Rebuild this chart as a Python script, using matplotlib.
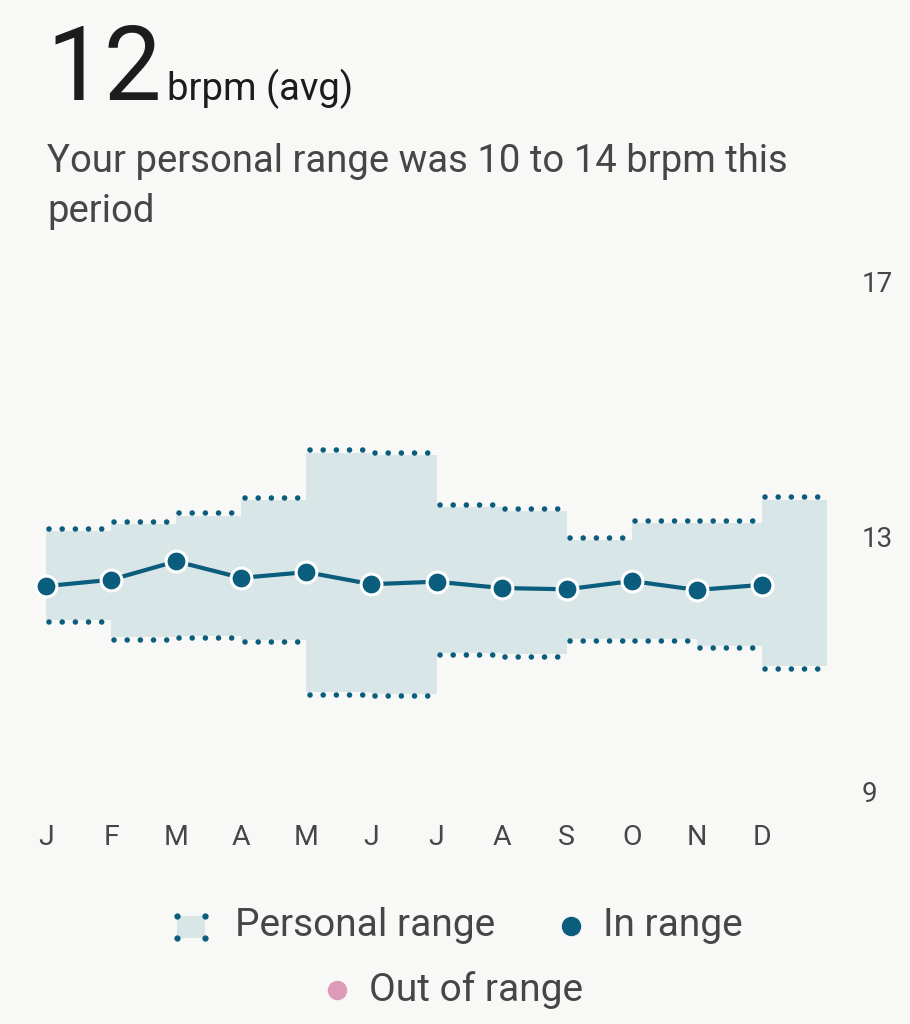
import numpy as np
import matplotlib
matplotlib.use('Agg')
import matplotlib.pyplot as plt
from matplotlib.patches import Rectangle
from matplotlib.lines import Line2D
from matplotlib.transforms import offset_copy

plt.rcParams['font.family'] = ['Roboto', 'DejaVu Sans']

# Data
months = ['J', 'F', 'M', 'A', 'M', 'J', 'J', 'A', 'S', 'O', 'N', 'D']
avg_rate = [12.22, 12.32, 12.61, 12.35, 12.44, 12.25, 12.29, 12.19, 12.17, 12.30, 12.16, 12.24]
range_high = [13.08, 13.19, 13.33, 13.57, 14.32, 14.28, 13.46, 13.40, 12.94, 13.21, 13.21, 13.58]
range_low = [11.69, 11.42, 11.44, 11.38, 10.55, 10.53, 11.17, 11.15, 11.39, 11.39, 11.28, 10.96]
y_ticks = [9, 13, 17]

bg = '#f8f9f7'
teal = '#0b5d7e'
band = '#d9e6e8'
pink = '#dc9bb9'
text_dark = '#1c1c1c'
text_gray = '#444746'

fig = plt.figure(figsize=(9.1, 10.24), dpi=100, facecolor=bg)
W, H = 910, 1024

# header texts
fig.text(46 / W, 1 - 100 / H, '12', fontsize=74, color=text_dark, va='baseline')
fig.text(167 / W, 1 - 100 / H, 'brpm (avg)', fontsize=27.5, color=text_dark, va='baseline')
fig.text(47 / W, 1 - 172 / H, 'Your personal range was 10 to 14 brpm this',
         fontsize=27.5, color=text_gray, va='baseline')
fig.text(47 / W, 1 - 222 / H, 'period', fontsize=27.5, color=text_gray, va='baseline')

# chart area: x from J (46px) to end of December band (827px), y 9..17
ax = fig.add_axes([46 / W, 1 - 791 / H, (827 - 46) / W, (791 - 282) / H])
ax.set_facecolor('none')
ax.set_xlim(0, 12)
ax.set_ylim(9, 17)
for s in ax.spines.values():
    s.set_visible(False)

x = np.arange(len(months))
xs = np.arange(len(months) + 1)
hi_step = range_high + [range_high[-1]]
lo_step = range_low + [range_low[-1]]
ax.fill_between(xs, lo_step, hi_step, step='post', color=band, lw=0, zorder=1)

# dotted edges of the personal range, one segment per month
up = offset_copy(ax.transData, fig=fig, y=2.5, units='dots')
down = offset_copy(ax.transData, fig=fig, y=-2.5, units='dots')
for i in range(len(months)):
    for val, tr in ((range_high[i], up), (range_low[i], down)):
        ax.plot([i + 0.05, i + 0.87], [val, val], transform=tr, color=teal,
                lw=4, linestyle=(0, (0.01, 2.36)), dash_capstyle='round',
                solid_capstyle='round', zorder=2, clip_on=False)

ax.plot(x, avg_rate, color=teal, lw=3, zorder=3, clip_on=False)
ax.plot(x, avg_rate, linestyle='none', marker='o', markersize=15,
        markerfacecolor=teal, markeredgecolor='white', markeredgewidth=2.2,
        zorder=4, clip_on=False)

ax.set_xticks(x)
ax.set_xticklabels(months)
ax.set_yticks(y_ticks)
ax.yaxis.tick_right()
ax.tick_params(axis='x', length=0, pad=24, labelsize=20.5, labelcolor=text_gray)
ax.tick_params(axis='y', length=0, pad=25, labelsize=20, labelcolor=text_gray)

# legend drawn by hand
ty1 = 1 - 926 / H
ty2 = 1 - 990 / H
fig.add_artist(Rectangle((177 / W, 1 - 938 / H), 28 / W, 22 / H,
                         transform=fig.transFigure, color=band, lw=0))
for cx in (177, 205):
    for cy in (916, 938):
        fig.add_artist(Line2D([cx / W], [1 - cy / H], transform=fig.transFigure,
                              marker='o', markersize=3.5, color=teal, lw=0))
fig.text(235 / W, ty1, 'Personal range', fontsize=28, color=text_gray, va='center')
fig.add_artist(Line2D([571 / W], [ty1], transform=fig.transFigure,
                      marker='o', markersize=13, color=teal, lw=0))
fig.text(603 / W, ty1, 'In range', fontsize=28, color=text_gray, va='center')
fig.add_artist(Line2D([337 / W], [ty2], transform=fig.transFigure,
                      marker='o', markersize=13, color=pink, lw=0))
fig.text(369 / W, ty2, 'Out of range', fontsize=28, color=text_gray, va='center')

fig.savefig('out.png', dpi=100, facecolor=bg)
